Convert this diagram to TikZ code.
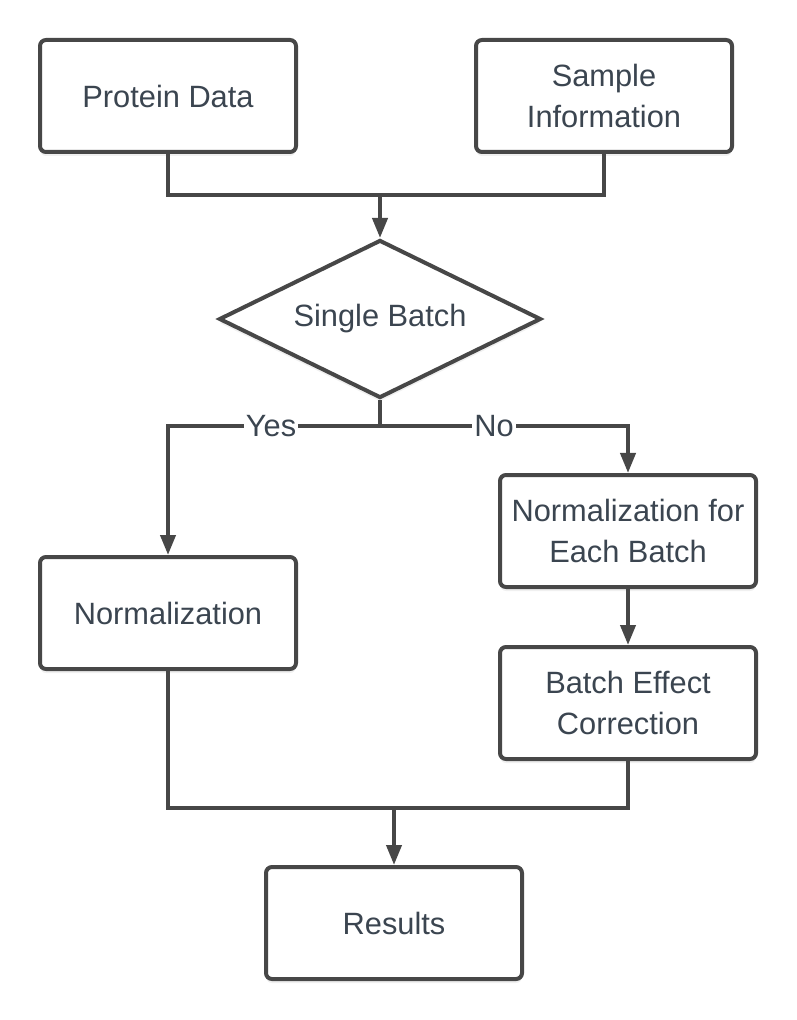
\documentclass[tikz,border=0pt]{standalone}
\usepackage{fontspec}
\setmainfont{Liberation Sans}
\usetikzlibrary{arrows.meta,shapes.geometric,shadows}
\definecolor{line_gray}{HTML}{474747}
\definecolor{text_gray}{HTML}{3B4550}

\tikzset{
  box/.style={draw=line_gray, line width=2pt, rounded corners=3pt, fill=white,
    minimum width=128pt, minimum height=56pt, align=center, text=text_gray,
    font=\fontsize{15.4}{20.5}\selectfont,
    drop shadow={opacity=0.12, shadow xshift=0pt, shadow yshift=-2pt}},
  decision/.style={box, diamond, aspect=2, rounded corners=0pt, minimum width=161pt,
    minimum height=79pt, inner sep=0pt},
  link/.style={draw=line_gray, line width=2pt},
  arrow/.style={link, -{Triangle[length=10pt,width=7.5pt]}},
  answer/.style={fill=white, text=text_gray, inner sep=1pt,
    font=\fontsize{15.4}{18}\selectfont}
}

\begin{document}
\begin{tikzpicture}[x=0.5pt, y=-0.5pt]
  \useasboundingbox (0,0) rectangle (796,1020);

  % Boxes
  \node[box] (protein) at (168,96) {Protein Data};
  \node[box] (sample) at (604,96) {Sample\\Information};
  \node[decision] (single) at (380,319) {Single Batch};
  \node[box] (norm) at (168,613) {Normalization};
  \node[box] (eachbatch) at (628,531) {Normalization for\\Each Batch};
  \node[box] (correction) at (628,703) {Batch Effect\\Correction};
  \node[box] (results) at (394,923) {Results};

  % Joins
  \coordinate (top_join) at (380,195);
  \coordinate (split) at (380,426);
  \coordinate (bottom_join) at (394,808);

  % Inputs into decision
  \draw[link] (protein.south) |- (top_join) -| (sample.south);
  \draw[arrow] (top_join) -- (single.north);

  % Yes / No branches
  \draw[link] (single.south) -- (split);
  \draw[arrow] (split) -| (norm.north) node[answer, pos=0.257] {Yes};
  \draw[arrow] (split) -| (eachbatch.north) node[answer, pos=0.23] {No};
  \draw[arrow] (eachbatch) -- (correction);

  % Merge into results
  \draw[link] (norm.south) |- (bottom_join) -| (correction.south);
  \draw[arrow] (bottom_join) -- (results.north);
\end{tikzpicture}
\end{document}
